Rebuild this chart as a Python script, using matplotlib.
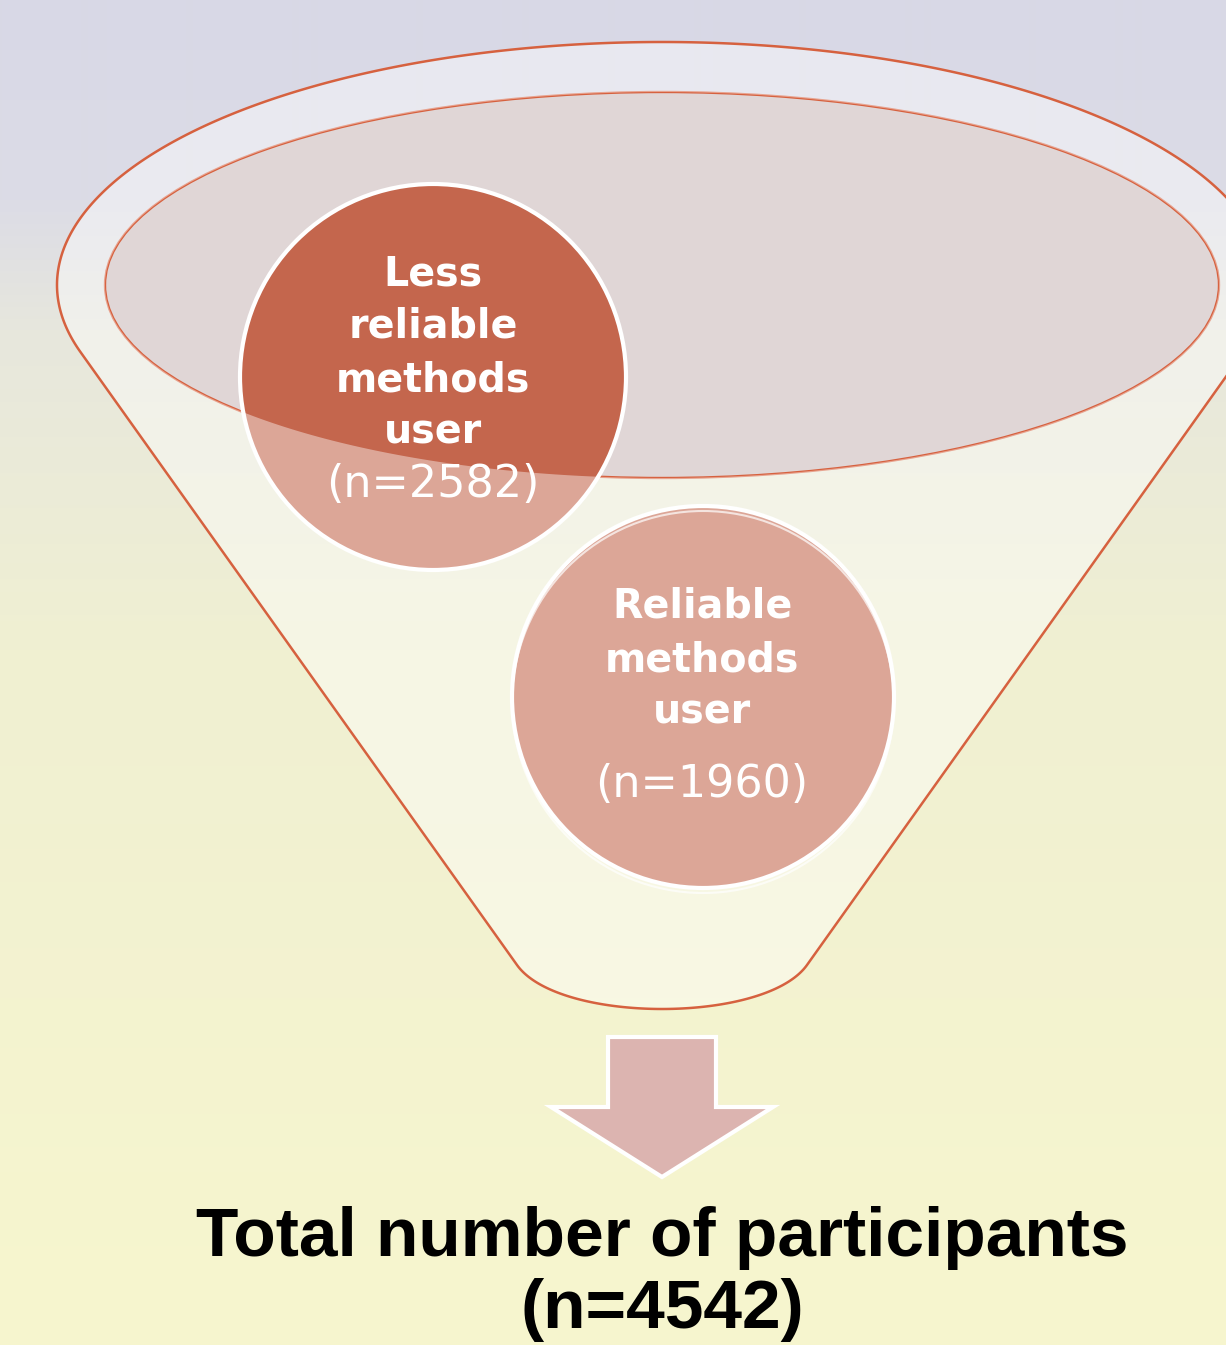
import numpy as np
import matplotlib
matplotlib.use("Agg")
import matplotlib.pyplot as plt
from matplotlib.path import Path
from matplotlib.patches import PathPatch, Circle, Ellipse, Polygon

# ---- data ----
group_words = [["Less", "reliable", "methods", "user"], ["Reliable", "methods", "user"]]
group_counts = [2582, 1960]
total_label = "Total number of participants"
total_count = 4542

W, H = 1226, 1345
fig = plt.figure(figsize=(W / 100, H / 100), dpi=100)
ax = fig.add_axes([0, 0, 1, 1])

# ---- background gradient ----
stop_y = [0, 200, 330, 650, 1345]
stop_c = [(216, 216, 230), (220, 220, 230), (231, 231, 221), (240, 240, 210), (247, 246, 206)]
ys = np.arange(H)
cols = np.stack([np.interp(ys, stop_y, [c[i] for c in stop_c]) for i in range(3)], axis=1) / 255
img = np.repeat(cols[:, None, :], 2, axis=1)
ax.imshow(img, extent=[0, W, H, 0], aspect='auto', zorder=0, interpolation='bilinear')
ax.set_xlim(0, W)
ax.set_ylim(H, 0)
ax.axis('off')

EDGE = '#d6613f'
DARK = '#c4664d'

# ---- funnel geometry ----
cx, ecy, A, B = 662, 285, 605, 243          # outer rim ellipse
ia, ib = 557, 193                            # inner opening ellipse
corner_y, corner_hw, bottom_y = 965, 145, 1009


def ell(t, x0, y0, a, b):
    return np.column_stack([x0 + a * np.cos(t), y0 + b * np.sin(t)])


def tangent_t(Q, lo, hi):
    t = np.linspace(lo, hi, 4000)
    p = ell(t, cx, ecy, A, B)
    cr = (p[:, 0] - Q[0]) * B * np.cos(t) + (p[:, 1] - Q[1]) * A * np.sin(t)
    idx = np.where(np.sign(cr[:-1]) != np.sign(cr[1:]))[0]
    return t[idx[0]] if len(idx) else (lo + hi) / 2


QL = np.array([cx - corner_hw, corner_y], float)
QR = np.array([cx + corner_hw, corner_y], float)
tL = tangent_t(QL, np.pi / 2, np.pi)
tR = tangent_t(QR, 0.0, np.pi / 2)

rim = ell(np.linspace(tL, 2 * np.pi + tR, 400), cx, ecy, A, B)
PL = rim[0]
PR = rim[-1]
# smooth bottom: cubic bezier from right corner to left corner
y1 = (bottom_y - 0.25 * corner_y) / 0.75
dR = (QR - PR) / (QR - PR)[1] * (y1 - corner_y)
dL = (QL - PL) / (QL - PL)[1] * (y1 - corner_y)
P0, P1, P2, P3 = QR, QR + dR, QL + dL, QL
s = np.linspace(0, 1, 120)[:, None]
bottom = ((1 - s) ** 3) * P0 + 3 * ((1 - s) ** 2) * s * P1 + 3 * (1 - s) * s ** 2 * P2 + s ** 3 * P3
outline = np.vstack([rim, bottom, rim[:1]])

inner = ell(np.linspace(0, 2 * np.pi, 400), cx, ecy, ia, ib)


def area(p):
    return 0.5 * np.sum(p[:-1, 0] * p[1:, 1] - p[1:, 0] * p[:-1, 1])


inner_rev = inner if np.sign(area(inner)) != np.sign(area(outline)) else inner[::-1]

# inner opening (behind the circles)
ax.add_patch(Ellipse((cx, ecy), 2 * ia, 2 * ib, facecolor='#e0d6d6', edgecolor=EDGE,
                     linewidth=1.7, zorder=2))

# ---- circles ----
circ_centers = [(433, 377), (703, 697)]
circ_r = [193, 191]
for (x, y), r in zip(circ_centers, circ_r):
    ax.add_patch(Circle((x, y), r, facecolor=DARK, edgecolor='white', linewidth=3, zorder=3))
ax.add_patch(Circle((circ_centers[1][0], circ_centers[1][1] + 5), circ_r[1], facecolor='none',
                    edgecolor='white', linewidth=1.5, alpha=0.7, zorder=3))

# translucent front of the funnel (funnel minus opening)
verts = np.vstack([outline, inner_rev])
codes = ([Path.MOVETO] + [Path.LINETO] * (len(outline) - 2) + [Path.CLOSEPOLY] +
         [Path.MOVETO] + [Path.LINETO] * (len(inner_rev) - 2) + [Path.CLOSEPOLY])
ax.add_patch(PathPatch(Path(verts, codes), facecolor='white', alpha=0.42, edgecolor='none', zorder=4))
ax.add_patch(Polygon(outline, closed=True, facecolor='none', edgecolor=EDGE, linewidth=1.8, zorder=5))

# ---- circle labels ----
word_font = dict(family='DejaVu Sans', weight='bold', fontsize=28.5, color='white', ha='center',
                 va='baseline', zorder=6)
count_font = dict(family='DejaVu Sans', weight='normal', fontsize=32, color='white', ha='center',
                  va='baseline', zorder=6)
first_base = [285, 618]
count_base = [497, 797]
label_x = [433, 702]
step = 53
for words, n, x, b0, cb in zip(group_words, group_counts, label_x, first_base, count_base):
    for i, w in enumerate(words):
        ax.text(x, b0 + i * step, w, **word_font)
    ax.text(x, cb, f"(n={n})", **count_font)

# ---- arrow ----
ax_c = cx
shaft_hw, head_hw = 54, 111
y_top, y_neck, y_tip = 1037, 1107, 1177
arrow = [(ax_c - shaft_hw, y_top), (ax_c + shaft_hw, y_top), (ax_c + shaft_hw, y_neck),
         (ax_c + head_hw, y_neck), (ax_c, y_tip), (ax_c - head_hw, y_neck), (ax_c - shaft_hw, y_neck)]
ax.add_patch(Polygon(arrow, closed=True, facecolor='#dcb4b0', edgecolor='white', linewidth=3,
                     joinstyle='miter', zorder=5))

# ---- total ----
ax.text(cx, 1256, total_label, family='Liberation Sans', weight='bold', fontsize=50,
        color='black', ha='center', va='baseline', zorder=6)
ax.text(cx, 1328, f"(n={total_count})", family='Liberation Sans', weight='bold',
        fontsize=50, color='black', ha='center', va='baseline', zorder=6)

fig.savefig('out.png', dpi=100)
